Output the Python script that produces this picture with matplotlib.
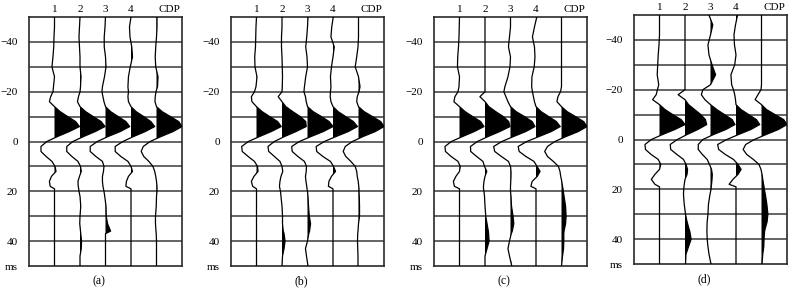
import numpy as np
import matplotlib.pyplot as plt

plt.rcParams['font.family'] = ['Liberation Serif', 'DejaVu Serif']

# two-way time samples (ms), shared by every trace
t_ms = [-50, -46, -42, -38, -34, -30, -26, -22, -20, -18, -16,
        -14, -12, -10, -8, -6, -4, -2, 0, 2, 4, 6, 8, 10,
        12, 14, 16, 18, 19, 20, 22, 26, 30, 33, 36, 37, 40, 43, 46, 50]

trace_names = ['1', '2', '3', '4', 'CDP']
time_ticks = [-40, -20, 0, 20, 40, 50]
time_labels = ['\u221240', '\u221220', '0', '20', '40', 'ms']
panel_labels = ['(a)', '(b)', '(c)', '(d)']

# amplitudes in units of trace spacing
a1 = [0, 0, -0.02, -0.03, -0.06, -0.1, 0.0, -0.04, -0.06, -0.15, -0.2,
      0.0, 0.22, 0.52, 0.83, 0.98, 0.58, 0.12, -0.3, -0.53, -0.53, -0.33, -0.1, 0.02,
      0.06, -0.12, -0.2, -0.17, 0, 0, 0, 0, 0, 0, 0, 0, 0, 0, 0, 0]
a2 = [0, -0.02, -0.04, -0.02, 0.0, 0.0, 0.04, 0.02, 0.0, -0.06, -0.1,
      0.0, 0.22, 0.52, 0.83, 0.98, 0.6, 0.14, -0.28, -0.52, -0.52, -0.32, -0.08, 0.02,
      0.05, -0.02, -0.08, -0.07, -0.05, -0.04, 0.0, 0.03, 0.0, -0.01, 0.02, 0.03, 0.06, 0.05, 0.0, 0.0]
a3 = [0, -0.02, -0.05, -0.05, 0.0, 0.02, -0.04, -0.12, -0.14, -0.1, -0.06,
      0.0, 0.2, 0.5, 0.8, 0.95, 0.58, 0.1, -0.32, -0.6, -0.6, -0.38, -0.12, -0.06,
      -0.08, -0.12, -0.12, -0.1, -0.08, -0.06, -0.03, 0.02, 0.03, 0.08, 0.2, 0.0, 0, 0, 0, 0]
a4 = [0.0, -0.06, -0.04, 0.03, 0.06, -0.03, -0.1, -0.12, -0.1, -0.12, -0.1,
      0.0, 0.2, 0.5, 0.78, 0.93, 0.56, 0.1, -0.32, -0.62, -0.62, -0.4, -0.12, 0.0,
      0.06, -0.1, -0.18, -0.2, 0, 0, 0, 0, 0, 0, 0, 0, 0, 0, 0, 0]
a_cdp = [0.02, 0.02, 0.0, -0.03, -0.05, -0.03, 0.06, 0.04, -0.02, -0.05, -0.06,
         0.0, 0.22, 0.55, 0.87, 1.0, 0.65, 0.18, -0.25, -0.52, -0.6, -0.5, -0.3, -0.14,
         -0.07, -0.03, 0.0, 0.02, 0.02, 0.02, 0.0, -0.01, -0.04, -0.04, -0.02, -0.01, 0, 0, 0, 0]

b1 = [0, -0.02, -0.03, -0.04, -0.07, -0.06, 0.02, -0.02, -0.08, -0.2, -0.18,
      0.0, 0.22, 0.52, 0.83, 0.97, 0.58, 0.12, -0.32, -0.58, -0.56, -0.33, -0.08, 0.04,
      0.06, -0.1, -0.2, -0.15, 0, 0, 0, 0, 0, 0, 0, 0, 0, 0, 0, 0]
b2 = [0, 0, -0.02, -0.02, 0.0, 0.01, 0.02, 0.01, 0.0, -0.15, 0.0,
      0.15, 0.42, 0.72, 0.93, 0.95, 0.55, 0.1, -0.3, -0.55, -0.52, -0.3, -0.08, 0.0,
      0.03, -0.04, -0.08, -0.1, -0.08, -0.06, -0.04, 0.0, 0.02, 0.02, 0.05, 0.08, 0.12, 0.08, 0.02, 0.0]
b3 = [0.02, 0.0, -0.03, -0.07, -0.02, 0.0, -0.07, -0.12, -0.14, -0.08, -0.05,
      0.0, 0.22, 0.55, 0.85, 1.0, 0.62, 0.14, -0.32, -0.62, -0.6, -0.38, -0.12, -0.04,
      -0.05, -0.08, -0.06, -0.03, -0.02, 0.0, 0.02, 0.04, 0.07, 0.12, 0.08, 0.05, 0.0, -0.08, -0.04, 0.02]
b4 = [0.01, -0.05, -0.08, 0.05, 0.0, -0.06, -0.1, -0.08, -0.1, -0.11, -0.08,
      0.0, 0.2, 0.5, 0.8, 0.96, 0.6, 0.12, -0.34, -0.66, -0.64, -0.4, -0.1, 0.02,
      0.1, -0.06, -0.16, -0.18, 0, 0, 0, 0, 0, 0, 0, 0, 0, 0, 0, 0]
b_cdp = [0, 0, 0, -0.02, -0.07, -0.13, 0.0, 0.06, 0.02, -0.05, -0.07,
         0.0, 0.22, 0.55, 0.87, 1.0, 0.66, 0.18, -0.24, -0.52, -0.6, -0.5, -0.3, -0.13,
         -0.07, -0.05, -0.01, 0.01, 0.02, 0.02, 0.03, 0.04, 0.04, 0.0, -0.02, -0.03, -0.04, -0.03, -0.02, -0.02]

c1 = [0, -0.01, -0.02, -0.04, -0.07, -0.08, 0.0, -0.02, -0.06, -0.18, -0.22,
      0.0, 0.22, 0.52, 0.83, 0.96, 0.58, 0.12, -0.32, -0.57, -0.55, -0.33, -0.06, 0.03,
      0.0, -0.14, -0.24, -0.2, 0, 0, 0, 0, 0, 0, 0, 0, 0, 0, 0, 0]
c2 = [0, 0, 0, 0, 0, 0, 0, 0, 0, -0.2, 0.0,
      0.15, 0.42, 0.72, 0.93, 0.98, 0.58, 0.12, -0.3, -0.57, -0.56, -0.33, -0.08, -0.02,
      0.07, 0.0, -0.04, -0.06, -0.06, -0.04, -0.02, 0.0, 0.03, 0.08, 0.13, 0.14, 0.16, 0.08, 0.0, 0.0]
c3 = [0.0, 0.0, -0.04, -0.08, 0.0, -0.02, -0.1, -0.22, -0.26, -0.18, -0.1,
      0.0, 0.22, 0.55, 0.85, 0.96, 0.6, 0.12, -0.34, -0.66, -0.62, -0.36, -0.08, 0.0,
      0.02, 0.02, 0.01, 0.0, 0.0, 0.0, 0.02, 0.04, 0.1, 0.13, 0.07, 0.03, -0.04, -0.1, -0.04, 0.05]
c4 = [0.03, -0.06, -0.14, -0.06, -0.04, -0.07, -0.16, -0.17, -0.14, -0.1, -0.06,
      0.0, 0.2, 0.5, 0.8, 0.95, 0.6, 0.12, -0.36, -0.7, -0.66, -0.4, -0.08, 0.04,
      0.16, 0.05, -0.15, -0.2, 0, 0, 0, 0, 0, 0, 0, 0, 0, 0, 0, 0]
c_cdp = [0, 0, 0, 0, 0, 0, 0, 0, -0.04, -0.14, -0.18,
         0.0, 0.22, 0.55, 0.87, 1.0, 0.66, 0.18, -0.26, -0.55, -0.66, -0.55, -0.32, -0.12,
         -0.06, -0.03, 0.01, 0.04, 0.06, 0.07, 0.1, 0.16, 0.18, 0.16, 0.1, 0.09, 0.09, 0.08, 0.04, 0.0]

d1 = [0, 0, 0, -0.02, -0.05, -0.07, -0.09, -0.03, -0.08, -0.13, -0.27,
      0.0, 0.22, 0.52, 0.85, 1.0, 0.6, 0.12, -0.32, -0.57, -0.55, -0.33, -0.05, 0.05,
      0.0, -0.18, -0.32, -0.18, 0, 0, 0, 0, 0, 0, 0, 0, 0, 0, 0, 0]
d2 = [0, 0, 0, 0, 0, 0, 0, 0, 0, -0.27, 0.0,
      0.14, 0.38, 0.62, 0.8, 0.85, 0.5, 0.08, -0.3, -0.58, -0.56, -0.32, -0.06, 0.04,
      0.1, 0.08, 0.0, -0.03, -0.04, -0.05, -0.06, -0.03, 0.02, 0.08, 0.16, 0.19, 0.24, 0.14, 0.04, 0.02]
d3 = [-0.06, 0.09, 0.0, -0.1, -0.06, 0.06, 0.2, 0.0, -0.3, -0.36, -0.22,
      0.0, 0.25, 0.55, 0.85, 0.96, 0.6, 0.12, -0.3, -0.48, -0.48, -0.32, -0.13, -0.04,
      0.04, 0.07, 0.06, 0.04, 0.03, 0.02, -0.02, -0.08, -0.1, -0.13, -0.14, -0.14, -0.13, -0.1, -0.06, 0.02]
d4 = [0.06, -0.02, -0.08, -0.06, 0.0, -0.05, -0.2, -0.17, -0.1, -0.05, -0.02,
      0.0, 0.2, 0.5, 0.8, 0.93, 0.58, 0.1, -0.36, -0.72, -0.68, -0.42, -0.1, 0.08,
      0.2, 0.08, -0.12, -0.27, 0, 0, 0, 0, 0, 0, 0, 0, 0, 0, 0, 0]
d_cdp = [0, 0, 0, 0, 0, 0, 0, 0, -0.02, -0.14, -0.25,
         0.0, 0.2, 0.53, 0.87, 1.0, 0.66, 0.18, -0.28, -0.62, -0.72, -0.58, -0.32, -0.1,
         -0.02, 0.02, 0.05, 0.08, 0.1, 0.11, 0.15, 0.21, 0.25, 0.22, 0.14, 0.12, 0.1, 0.09, 0.05, 0.02]

panels = [[a1, a2, a3, a4, a_cdp],
          [b1, b2, b3, b4, b_cdp],
          [c1, c2, c3, c4, c_cdp],
          [d1, d2, d3, d4, d_cdp]]

W, H = 797, 294
fig = plt.figure(figsize=(W / 100, H / 100), dpi=100)

# panel boxes in pixels: left, top
boxes = [(29, 17), (231, 17), (434, 17), (634, 15)]
pw, ph = 153, 249

t = np.array(t_ms)
for (x0, y0), traces, label in zip(boxes, panels, panel_labels):
    ax = fig.add_axes([x0 / W, 1 - (y0 + ph) / H, pw / W, ph / H])

    for y in range(-40, 41, 10):
        ax.axhline(y, color='#3a3a3a', lw=1.1, zorder=1)

    for i, amp in enumerate(traces):
        pos = i + 1
        amp = np.array(amp)
        ax.fill_betweenx(t, pos, pos + amp, where=amp > 0, interpolate=True,
                         color='black', lw=0, zorder=2)
        ax.plot(pos + amp, t, color='black', lw=0.9, zorder=3)

    ax.set_xlim(0, 6)
    ax.set_ylim(50, -50)

    ax.set_yticks(time_ticks)
    ax.set_yticklabels(time_labels, fontsize=8)
    ax.xaxis.tick_top()
    ax.set_xticks([1, 2, 3, 4, 5.5])
    ax.set_xticklabels(trace_names, fontsize=8)
    ax.tick_params(length=0)
    ax.tick_params(axis='y', pad=8)
    ax.tick_params(axis='x', pad=2)
    for s in ax.spines.values():
        s.set_color('#2a2a2a')
        s.set_linewidth(1.2)

    ax.text(0.46, -0.06, label, transform=ax.transAxes, ha='center', va='center',
            fontsize=8.5)

fig.savefig('out.png', dpi=100)
